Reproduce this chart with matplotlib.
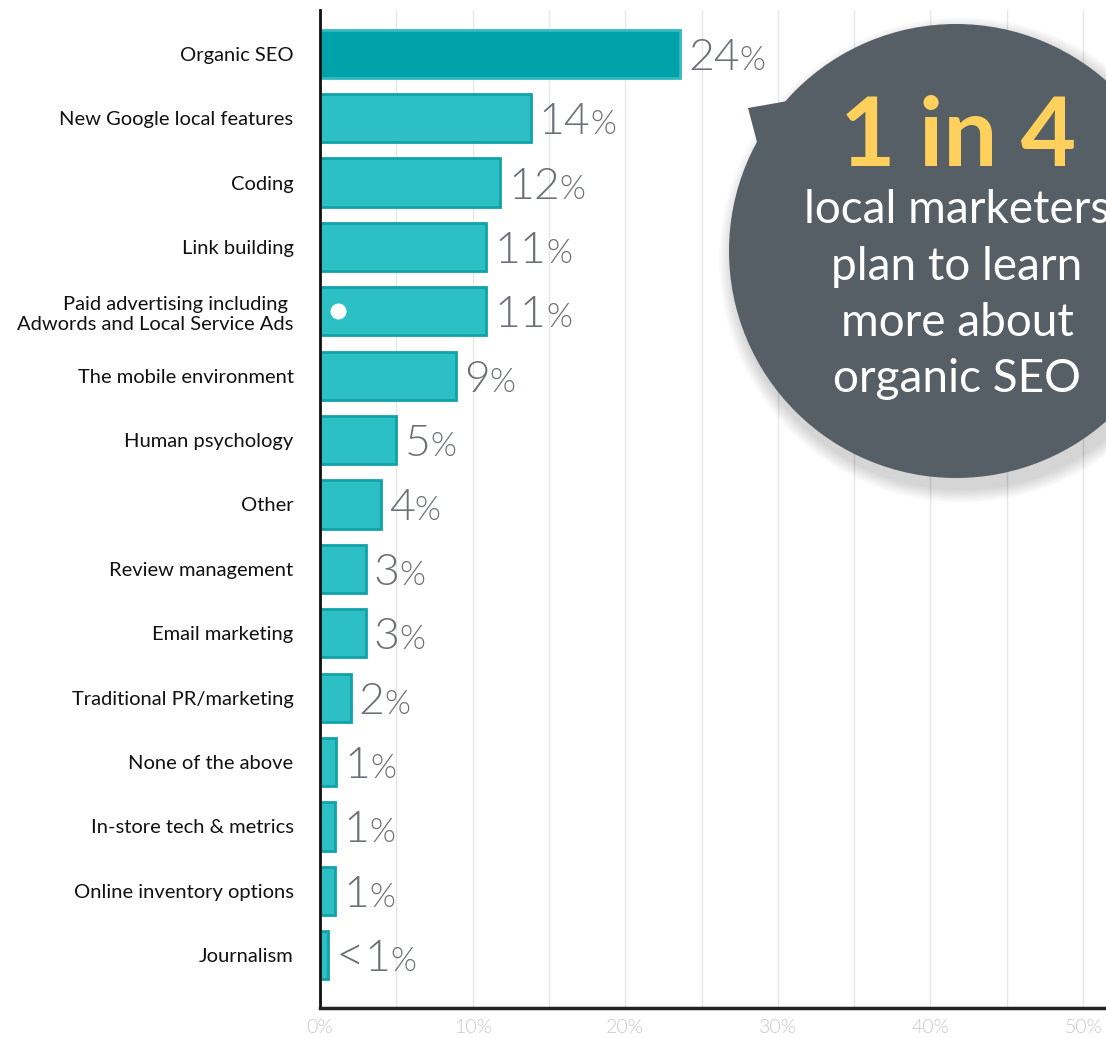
import matplotlib.pyplot as plt
from matplotlib.patches import Circle, Polygon

plt.rcParams['font.family'] = ['Lato', 'DejaVu Sans']

categories = [
    "Organic SEO",
    "New Google local features",
    "Coding",
    "Link building",
    "Paid advertising including \nAdwords and Local Service Ads",
    "The mobile environment",
    "Human psychology",
    "Other",
    "Review management",
    "Email marketing",
    "Traditional PR/marketing",
    "None of the above",
    "In-store tech & metrics",
    "Online inventory options",
    "Journalism",
]
values = [23.6, 13.8, 11.8, 10.9, 10.9, 8.9, 5.0, 4.0, 3.0, 3.0, 2.0, 1.05, 1.0, 1.0, 0.5]
x_ticks = [0, 10, 20, 30, 40, 50]
x_tick_labels = ["0%", "10%", "20%", "30%", "40%", "50%"]
dot_category = 4
dot_value = 1.2

W, H = 1106, 1038
fig = plt.figure(figsize=(W / 100, H / 100), dpi=100)
fig.patch.set_facecolor("white")

ax = fig.add_axes([320 / W, (H - 1008) / H, (W - 320) / W, 998 / H])
ax.set_xlim(0, 51.5)
ax.set_ylim(14.82, -0.68)

# grid every 5%
for g in range(5, 55, 5):
    ax.axvline(g, color="#e6e6e6", lw=1, zorder=0)

ypos = list(range(len(categories)))
face = ["#00a2aa"] + ["#2cc0c4"] * (len(values) - 1)
edge = ["#33b9bf"] + ["#0fa3aa"] * (len(values) - 1)
ax.barh(ypos, values, height=0.75, color=face, edgecolor=edge, linewidth=2, zorder=2)

ax.scatter([dot_value], [dot_category], s=110, color="white", zorder=3)

ax.set_yticks(ypos)
ax.set_yticklabels(categories, fontsize=14.5, color="#111111", linespacing=1.25)
ax.tick_params(axis="y", length=0, pad=19)
ax.set_xticks(x_ticks)
ax.set_xticklabels(x_tick_labels, fontsize=14, color="#c8c8c8", fontweight=300)
ax.tick_params(axis="x", length=0, pad=8)

for s in ["top", "right"]:
    ax.spines[s].set_visible(False)
ax.spines["left"].set_linewidth(2)
ax.spines["bottom"].set_linewidth(2.5)
ax.spines["left"].set_color("#111111")
ax.spines["bottom"].set_color("#222222")

# value labels: big number with a smaller percent sign
fig.canvas.draw()
renderer = fig.canvas.get_renderer()
label_color = "#6b7079"
for y, v in zip(ypos, values):
    if v < 1:
        parts = [("<", 36), ("1", 32), ("%", 24)]
    else:
        parts = [(f"{v:.0f}", 32), ("%", 24)]
    x_px = ax.transData.transform((v, y))[0] + 8
    y_px = ax.transData.transform((v, y))[1]
    for txt, size in parts:
        t = fig.text(x_px / W, (y_px - 16) / H, txt, fontsize=size, color=label_color,
                     fontweight=300, va="baseline", ha="left")
        bb = t.get_window_extent(renderer)
        x_px = bb.x1

# callout bubble drawn in pixel space
over = fig.add_axes([0, 0, 1, 1], zorder=5)
over.set_xlim(0, W)
over.set_ylim(H, 0)
over.axis("off")

cx, cy, r = 956, 251, 227
for k in range(14):
    over.add_patch(Circle((cx + 6, cy + 9), r + 16 - k, color="black", alpha=0.012, lw=0))
over.add_patch(Polygon([(748, 108), (805, 98), (775, 170), (757, 142)], closed=True,
                       color="#565e66", lw=0))
over.add_patch(Circle((cx, cy), r, color="#565e66", lw=0))

over.text(958, 138, "1 in 4", fontsize=69, fontweight="bold", color="#ffd15c",
          ha="center", va="center")
lines = ["local marketers", "plan to learn", "more about", "organic SEO"]
for i, line in enumerate(lines):
    over.text(957, 210 + i * 56.5, line, fontsize=33, color="white", ha="center", va="center")

fig.savefig("out.png", dpi=100, facecolor="white")
